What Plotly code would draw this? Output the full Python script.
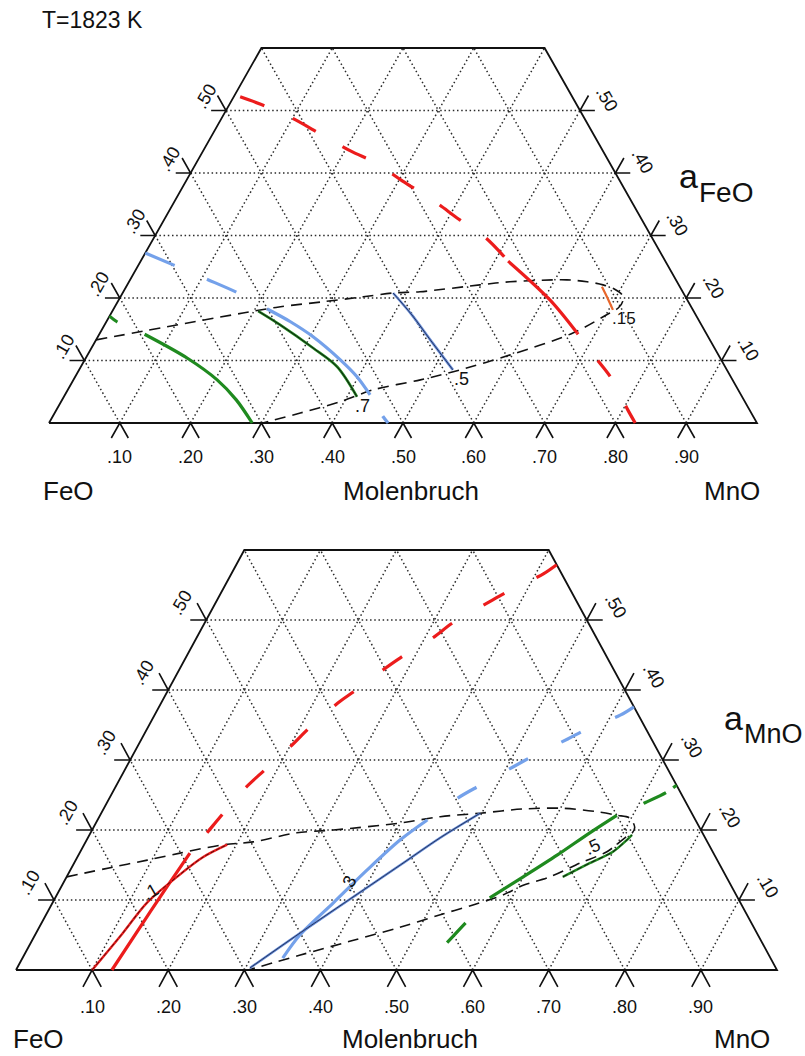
import plotly.graph_objects as go

W, H = 805, 1056

# ---------------------------------------------------------------------------
# Composition grid (mole fractions); SiO2 axis truncated at 0.60
# ---------------------------------------------------------------------------
GRID_LEVELS = [0.1, 0.2, 0.3, 0.4, 0.5, 0.6, 0.7, 0.8, 0.9]
BASE_TICK_LABELS = [".10", ".20", ".30", ".40", ".50", ".60", ".70", ".80", ".90"]
SIDE_LEVELS = [0.1, 0.2, 0.3, 0.4, 0.5]
SIDE_TICK_LABELS = [".10", ".20", ".30", ".40", ".50"]
SIO2_TOP = 0.6

# Points are (X_MnO, X_SiO2)

# ---- a_FeO diagram --------------------------------------------------------
FEO_BOUNDARY = [(0.0, 0.133), (0.186, 0.176), (0.234, 0.186), (0.290, 0.194),
                (0.343, 0.202), (0.382, 0.208), (0.419, 0.210), (0.498, 0.221),
                (0.538, 0.226), (0.617, 0.229), (0.647, 0.226), (0.672, 0.221),
                (0.692, 0.214), (0.707, 0.205), (0.713, 0.195), (0.712, 0.184),
                (0.704, 0.176), (0.668, 0.144), (0.597, 0.109), (0.530, 0.082),
                (0.490, 0.069), (0.431, 0.053), (0.394, 0.034), (0.347, 0.016),
                (0.302, 0.0)]

FEO_RED_UPPER = [(0.009, 0.522), (0.044, 0.510), (0.099, 0.488), (0.153, 0.462),
                 (0.209, 0.435), (0.254, 0.416), (0.306, 0.387), (0.363, 0.357),
                 (0.416, 0.326), (0.469, 0.296), (0.519, 0.259)]
FEO_RED_SOLID = [(0.519, 0.259), (0.609, 0.197), (0.674, 0.144)]
FEO_RED_LOWER = [(0.674, 0.144), (0.724, 0.101), (0.758, 0.072), (0.807, 0.021),
                 (0.828, 0.0)]
FEO_ORANGE_015 = [(0.672, 0.218), (0.687, 0.202), (0.706, 0.181)]

FEO_BLUE_UPPER = [(0.0, 0.272), (0.049, 0.253), (0.108, 0.230), (0.163, 0.208),
                  (0.218, 0.182)]
FEO_BLUE_SOLID = [(0.218, 0.182), (0.260, 0.162), (0.304, 0.138), (0.361, 0.101),
                  (0.398, 0.074), (0.431, 0.045)]
FEO_BLUE_LOWER = [(0.431, 0.045), (0.467, 0.010), (0.479, 0.0)]
FEO_BLUE_05 = [(0.382, 0.208), (0.426, 0.173), (0.472, 0.133), (0.528, 0.085)]

FEO_GREEN_UPPER = [(0.0, 0.171), (0.015, 0.162), (0.064, 0.142)]
FEO_GREEN_SOLID = [(0.064, 0.142), (0.143, 0.104), (0.203, 0.069), (0.246, 0.037),
                   (0.287, 0.0)]
FEO_GREEN_07 = [(0.206, 0.179), (0.248, 0.157), (0.313, 0.120), (0.362, 0.090),
                (0.414, 0.042)]

# ---- a_MnO diagram --------------------------------------------------------
MNO_BOUNDARY = [(0.0, 0.133), (0.054, 0.147), (0.094, 0.157), (0.132, 0.167),
                (0.183, 0.179), (0.220, 0.183), (0.271, 0.196), (0.317, 0.200),
                (0.400, 0.210), (0.448, 0.219), (0.498, 0.224), (0.551, 0.230),
                (0.603, 0.231), (0.651, 0.226), (0.679, 0.221), (0.698, 0.217),
                (0.711, 0.204), (0.712, 0.196), (0.706, 0.189), (0.692, 0.169),
                (0.665, 0.153), (0.635, 0.133), (0.606, 0.121), (0.586, 0.107),
                (0.554, 0.093), (0.518, 0.079), (0.474, 0.061), (0.418, 0.041),
                (0.362, 0.021), (0.305, 0.0)]

MNO_RED_SOLID = [(0.126, 0.0), (0.134, 0.076), (0.139, 0.119), (0.145, 0.167)]
MNO_RED_DASHED = [(0.145, 0.167), (0.153, 0.196), (0.159, 0.219), (0.170, 0.257),
                  (0.184, 0.286), (0.201, 0.319), (0.213, 0.347), (0.232, 0.381),
                  (0.246, 0.399), (0.268, 0.429), (0.282, 0.446), (0.310, 0.474),
                  (0.326, 0.496), (0.357, 0.524), (0.380, 0.544), (0.410, 0.566),
                  (0.421, 0.579)]
MNO_RED_01 = [(0.100, 0.0), (0.114, 0.053), (0.124, 0.096), (0.145, 0.133),
              (0.165, 0.161), (0.188, 0.179)]

MNO_BLUE_SOLID = [(0.342, 0.017), (0.348, 0.050), (0.369, 0.096), (0.390, 0.143),
                  (0.412, 0.186), (0.433, 0.214)]
MNO_BLUE_DASHED = [(0.433, 0.214), (0.458, 0.246), (0.478, 0.264), (0.508, 0.290),
                   (0.528, 0.307), (0.560, 0.330), (0.578, 0.344), (0.612, 0.364),
                   (0.624, 0.376)]
MNO_BLUE_03 = [(0.306, 0.003), (0.347, 0.053), (0.430, 0.150), (0.463, 0.189),
               (0.498, 0.224)]

MNO_GREEN_LOWER = [(0.547, 0.039), (0.557, 0.067), (0.571, 0.103)]
MNO_GREEN_SOLID = [(0.571, 0.103), (0.600, 0.133), (0.629, 0.164), (0.656, 0.196),
                   (0.679, 0.221)]
MNO_GREEN_UPPER = [(0.679, 0.221), (0.707, 0.239), (0.728, 0.254), (0.736, 0.264)]
MNO_GREEN_05 = [(0.652, 0.133), (0.678, 0.153), (0.700, 0.169), (0.710, 0.186),
                (0.713, 0.193)]

# ---------------------------------------------------------------------------
RED = "#ec1c1c"
BLUE = "#74a1ea"
GREEN = "#1f8a1f"
ORANGE = "#e8672c"
INK = "#111111"
FONT = "Liberation Sans, Arial, sans-serif"

fig = go.Figure()

PANELS = {"top": ("x", "y"), "bottom": ("x2", "y2")}


def to_xy(pts):
    """Ternary (MnO, SiO2) -> cartesian, FeO at the origin, MnO at x=1."""
    xs, ys = [], []
    for p in pts:
        if p is None:
            xs.append(None)
            ys.append(None)
        else:
            m, s = p
            xs.append(m + s / 2.0)
            ys.append(s)
    return xs, ys


def curve(pts, panel, color, width, dash="solid", reverse=False, smooth=True):
    if reverse:
        pts = list(reversed(pts))
    xs, ys = to_xy(pts)
    xa, ya = PANELS[panel]
    line = dict(color=color, width=width, dash=dash)
    if smooth:
        line.update(shape="spline", smoothing=0.9)
    fig.add_trace(go.Scatter(x=xs, y=ys, mode="lines", xaxis=xa, yaxis=ya,
                             line=line, hoverinfo="skip", showlegend=False))


def frame(panel, t=0.024, h=0.021):
    # dotted composition grid
    grid = []
    for v in GRID_LEVELS:
        smax = min(SIO2_TOP, 1 - v)
        grid += [(v, 0.0), (v, smax), None]                 # constant MnO
        grid += [(1 - v, 0.0), (1 - v - smax, smax), None]  # constant FeO
    for s in SIDE_LEVELS:
        grid += [(0.0, s), (1 - s, s), None]                # constant SiO2
    curve(grid, panel, "#2a2a2a", 1.5, dash="1.5px,2.7px", smooth=False)

    # tick marks: extensions of the grid lines beyond the frame
    ticks = []
    for v in GRID_LEVELS:
        ticks += [(v, -t), (v, 0.0), (v + t, -t), None]
    for s in SIDE_LEVELS:
        ticks += [(-h, s), (0.0, s), (-t, s + t), None]
        ticks += [(1 - s + h, s), (1 - s, s), (1 - s, s + t), None]
    curve(ticks, panel, INK, 1.6, smooth=False)

    outline = [(0.0, 0.0), (1.0, 0.0), (1 - SIO2_TOP, SIO2_TOP), (0.0, SIO2_TOP), (0.0, 0.0)]
    curve(outline, panel, INK, 1.8, smooth=False)


frame("top")
frame("bottom")

# ---- a_FeO iso-activity lines ---------------------------------------------
curve(FEO_BOUNDARY, "top", INK, 1.6, dash="11px,7px")
curve(FEO_RED_UPPER, "top", RED, 3.2, dash="26px,31px")
curve(FEO_RED_SOLID, "top", RED, 3.2)
curve(FEO_RED_LOWER, "top", RED, 3.2, dash="20px,33px", reverse=True)
curve(FEO_ORANGE_015, "top", ORANGE, 2.2)
curve(FEO_BLUE_UPPER, "top", BLUE, 3.2, dash="32px,35px")
curve(FEO_BLUE_SOLID, "top", BLUE, 3.2)
curve(FEO_BLUE_LOWER, "top", BLUE, 3.2, dash="9px,40px", reverse=True)
curve(FEO_BLUE_05, "top", "#6b8fd8", 2.6)
curve(FEO_BLUE_05, "top", "#1b2a55", 0.9)
curve(FEO_GREEN_UPPER, "top", GREEN, 3.2, dash="10px,40px")
curve(FEO_GREEN_SOLID, "top", GREEN, 3.2)
curve(FEO_GREEN_07, "top", GREEN, 2.6)
curve(FEO_GREEN_07, "top", INK, 1.0)

# ---- a_MnO iso-activity lines ---------------------------------------------
curve(MNO_BOUNDARY, "bottom", INK, 1.6, dash="11px,7px")
curve(MNO_RED_SOLID, "bottom", RED, 3.2)
curve(MNO_RED_DASHED, "bottom", RED, 3.2, dash="24px,36px", reverse=True)
curve(MNO_RED_01, "bottom", RED, 2.4)
curve(MNO_RED_01, "bottom", "#3a0a0a", 0.9, dash="4px,2px")
curve(MNO_BLUE_SOLID, "bottom", BLUE, 3.2)
curve(MNO_BLUE_DASHED, "bottom", BLUE, 3.2, dash="22px,37px", reverse=True)
curve(MNO_BLUE_03, "bottom", "#628ad8", 2.4)
curve(MNO_BLUE_03, "bottom", "#1a2240", 0.8)
curve(MNO_GREEN_LOWER, "bottom", GREEN, 3.2, dash="27px,40px")
curve(MNO_GREEN_SOLID, "bottom", GREEN, 3.2)
curve(MNO_GREEN_UPPER, "bottom", GREEN, 3.2, dash="4px,9px,25px,60px", reverse=True)
curve(MNO_GREEN_05, "bottom", GREEN, 2.4)
curve(MNO_GREEN_05, "bottom", INK, 1.0, dash="5px,3px")

# ---------------------------------------------------------------------------
# Axes: one cartesian pair per diagram, hidden
# ---------------------------------------------------------------------------
hidden = dict(visible=False, showgrid=False, zeroline=False, fixedrange=True)
fig.update_layout(
    width=W, height=H,
    margin=dict(l=0, r=0, t=0, b=0),
    paper_bgcolor="white", plot_bgcolor="white",
    xaxis=dict(domain=[0, 1], range=[-49 / 708, (W - 49) / 708], anchor="y", **hidden),
    yaxis=dict(domain=[0.5, 1], range=[-105 / 625, -105 / 625 + 528 / 625], anchor="x", **hidden),
    xaxis2=dict(domain=[0, 1], range=[-16 / 761, (W - 16) / 761], anchor="y2", **hidden),
    yaxis2=dict(domain=[0, 0.5], range=[-86 / 700, -86 / 700 + 528 / 700], anchor="x2", **hidden),
)

ann = []


def data_text(panel, m, s, text, size, dx=0, dy=0, angle=0):
    xa, ya = PANELS[panel]
    ann.append(dict(x=m + s / 2.0, y=s, xref=xa, yref=ya, text=text, showarrow=False,
                    xshift=dx, yshift=dy, textangle=angle, xanchor="center",
                    yanchor="middle", font=dict(family=FONT, size=size, color=INK)))


def paper_text(px, py, text, size, xanchor="center", angle=0):
    ann.append(dict(x=px / W, y=1 - py / H, xref="paper", yref="paper", text=text,
                    showarrow=False, xanchor=xanchor, yanchor="middle", textangle=angle,
                    font=dict(family=FONT, size=size, color=INK)))


for panel, base_dy, ldx, ldy, rdx, rdy in [("top", -34, -21, 14, 27, 12),
                                          ("bottom", -37, -25, 17, 29, 14)]:
    for v, lab in zip(GRID_LEVELS, BASE_TICK_LABELS):
        data_text(panel, v, 0.0, lab, 18, dy=base_dy)
    for s, lab in zip(SIDE_LEVELS, SIDE_TICK_LABELS):
        data_text(panel, 0.0, s, lab, 18, dx=ldx, dy=ldy, angle=-60)
        data_text(panel, 1 - s, s, lab, 18, dx=rdx, dy=rdy, angle=60)

# diagram titles and axis names
paper_text(40, 20, "T=1823 K", 23, xanchor="left")
paper_text(677, 176, "a", 34, xanchor="left")
paper_text(697, 193, "FeO", 28, xanchor="left")
paper_text(722, 718, "a", 34, xanchor="left")
paper_text(742, 734, "MnO", 27, xanchor="left")

for py, fx, mx, nx in [(491, 68, 411, 732), (1039, 38, 410, 742)]:
    paper_text(fx, py, "FeO", 26)
    paper_text(mx, py, "Molenbruch", 26)
    paper_text(nx, py, "MnO", 26)

# activity values written on the curves
paper_text(362, 406, ".7", 18)
paper_text(461, 379, ".5", 18)
paper_text(624, 318, ".15", 17)
paper_text(150, 892, ".1", 18, angle=-30)
paper_text(348, 884, ".3", 18, angle=-60)
paper_text(592, 847, ".5", 18, angle=-25)

fig.update_layout(annotations=ann)
fig.write_html("out.html")
